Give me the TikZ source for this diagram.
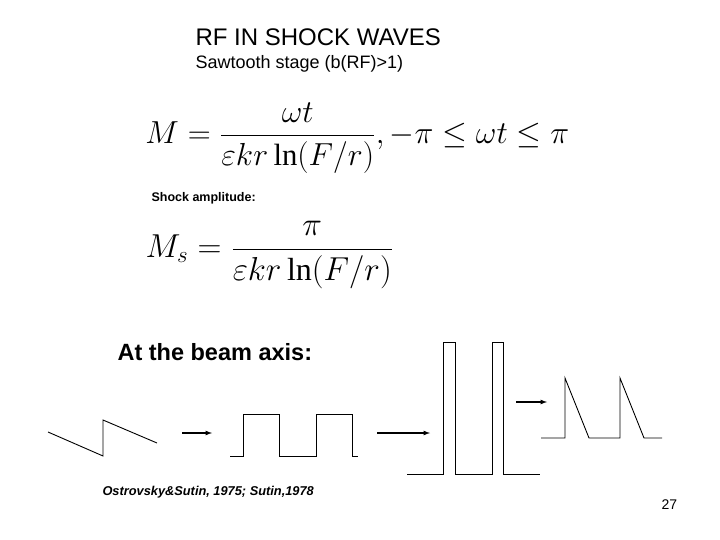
\documentclass[tikz,border=0pt]{standalone}
\usepackage{amsmath}
\usepackage{fontspec}
\setmainfont{Liberation Sans}
\newfontfamily\serifln{Liberation Serif}
\newcommand{\myln}{\mathop{\text{\serifln ln}}\nolimits}
\begin{document}
\begin{tikzpicture}[x=1pt,y=-1pt,wave/.style={line width=0.9pt},arr/.style={line width=1.2pt,-latex},
 formula/.style={anchor=west,font=\fontsize{20}{24}\selectfont,scale=1.6,transform shape}]
\useasboundingbox (0,0) rectangle (720,540);
\node[anchor=west,font=\fontsize{24}{28}\selectfont] (t1) at (192,37) {RF IN SHOCK WAVES};
\node[anchor=west,font=\fontsize{18}{21}\selectfont] (t2) at (192,64) {Sawtooth stage (b(RF)>1)};
\node[formula,scale=0.96] (f1) at (140,138) {$M=\dfrac{\omega t}{\varepsilon kr\myln(F/r)},-\pi\le\omega t\le\pi$};
\node[anchor=west,font=\bfseries\fontsize{12.5}{14}\selectfont] (t3) at (148,198) {Shock amplitude:};
\node[formula] (f2) at (140,255) {$M_s=\dfrac{\pi}{\varepsilon kr\myln(F/r)}$};
\node[anchor=west,font=\bfseries\fontsize{23.5}{27}\selectfont] (t4) at (114,352) {At the beam axis:};
\node[anchor=west,font=\bfseries\itshape\fontsize{12.8}{15}\selectfont] (t5) at (99,492) {Ostrovsky\&Sutin, 1975; Sutin,1978};
\node[anchor=west,font=\fontsize{14}{16}\selectfont] (t6) at (658,505) {27};
\draw[wave] (48,432)--(103,456)--(103,420)--(157,443);
\coordinate (a1s) at (182,433); \coordinate (a1e) at (212,433);
\draw[arr] (a1s)--(a1e);
\draw[wave] (230,456)--(243,456)--(243,414)--(279,414)--(279,456)--(316,456)--(316,414)--(352,414)--(352,456)--(358,456);
\coordinate (a2s) at (377,433); \coordinate (a2e) at (430,433);
\draw[arr] (a2s)--(a2e);
\draw[wave] (407,474)--(443,474)--(443,342)--(455,342)--(455,474)--(492,474)--(492,342)--(503,342)--(503,474)--(540,474);
\coordinate (a3s) at (516,402); \coordinate (a3e) at (547,402);
\draw[arr] (a3s)--(a3e);
\draw[wave] (541,438)--(565,438)--(565,378)--(589,438)--(620,438)--(620,378)--(644,438)--(662,438);
\end{tikzpicture}
\end{document}
